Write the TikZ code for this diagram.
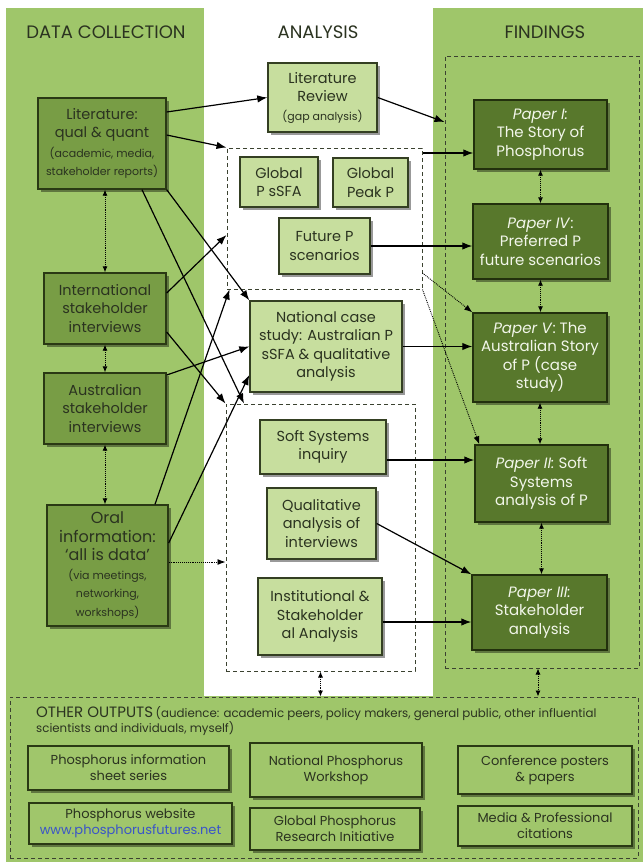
\documentclass[tikz,border=0pt]{standalone}
\usepackage{fontspec}
\setmainfont{Poppins}
\usetikzlibrary{arrows.meta,shadows}

\definecolor{panel}{HTML}{9FC66A}
\definecolor{leftfill}{HTML}{789D45}
\definecolor{leftdraw}{HTML}{2A3914}
\definecolor{midfill}{HTML}{C7DE9E}
\definecolor{middraw}{HTML}{343F22}
\definecolor{papfill}{HTML}{58782C}
\definecolor{papdraw}{HTML}{22300D}
\definecolor{paptext}{HTML}{F2F6EA}
\definecolor{outfill}{HTML}{A0C66B}
\definecolor{darktext}{HTML}{2B3320}
\definecolor{dashcol}{HTML}{3B4230}
\definecolor{urlblue}{HTML}{3A55C8}

\newcommand\fHead{\fontsize{18}{21}\selectfont}
\newcommand\fMain{\fontsize{14.5}{18.5}\selectfont}
\newcommand\fPap{\fontsize{15}{18.5}\selectfont}
\newcommand\fBig{\fontsize{16}{19}\selectfont}
\newcommand\fSmall{\fontsize{11}{13}\selectfont}
\newcommand\fOut{\fontsize{13}{16}\selectfont}

\begin{document}
\begin{tikzpicture}[x=1pt,y=-1pt,
  box/.style={line width=1.4pt, align=center, inner sep=2pt,
    drop shadow={shadow xshift=2.5pt,shadow yshift=-2.5pt,opacity=.4,fill=black}},
  colnode/.style={box, fill=leftfill, draw=leftdraw, text=darktext, font=\fMain},
  annode/.style={box, fill=midfill, draw=middraw, text=darktext, font=\fMain},
  papnode/.style={box, fill=papfill, draw=papdraw, text=paptext, font=\fPap},
  outnode/.style={box, fill=outfill, draw=leftdraw, text=darktext, font=\fOut},
  dbox/.style={draw=dashcol, dash pattern=on 4pt off 3pt, line width=1pt},
  arr/.style={-{Latex[length=10pt,width=7.5pt]}, line width=1.2pt, black},
  dotarr/.style={{Latex[length=6pt,width=5pt]}-{Latex[length=6pt,width=5pt]},
    densely dotted, line width=0.9pt, black},
  dotone/.style={-{Latex[length=8pt,width=6pt]}, densely dotted, line width=0.9pt, black},
  head/.style={font=\fHead, text=darktext}
]
\useasboundingbox (0,0) rectangle (643,862);

% background panels
\fill[white] (0,0) rectangle (643,862);
\fill[panel] (6,8) rectangle (643,862);
\fill[white] (204,8) rectangle (433,696);

% column headings
\node[head] (hdata) at (106,32) {DATA COLLECTION};
\node[head] (hana) at (318,32) {ANALYSIS};
\node[head] (hfind) at (545,32) {FINDINGS};

% dashed groupings
\node[dbox, minimum width=195, minimum height=141, inner sep=0] (gbox) at (324.5,218.5) {};
\node[dbox, minimum width=189, minimum height=267, inner sep=0] (sbox) at (320.5,537.5) {};
\node[dbox, minimum width=194, minimum height=612, inner sep=0] (fbox) at (542,362) {};
\node[dbox, minimum width=628, minimum height=161, inner sep=0] (obox) at (324,777.5) {};

% data collection
\node[colnode, minimum width=128, minimum height=91] (lit) at (102,143.5)
  {Literature:\\qual \& quant\\[1pt]\fSmall(academic, media,\\\fSmall stakeholder reports)};
\node[colnode, minimum width=122, minimum height=71] (intl) at (105,308.5)
  {International\\stakeholder\\interviews};
\node[colnode, minimum width=122, minimum height=71] (aus) at (105,408.5)
  {Australian\\stakeholder\\interviews};
\node[colnode, minimum width=121, minimum height=121] (oral) at (107.5,565.5)
  {\fBig Oral\\\fBig information:\\\fBig ‘all is data’\\\fSmall(via meetings,\\\fSmall networking,\\\fSmall workshops)};

% analysis
\node[annode, minimum width=109, minimum height=69] (litrev) at (322.5,97.5)
  {Literature\\Review\\\fSmall(gap analysis)};
\node[annode, minimum width=78, minimum height=50] (gsfa) at (279,182) {Global\\P sSFA};
\node[annode, minimum width=75, minimum height=49] (gpeak) at (370.5,182.5) {Global\\Peak P};
\node[annode, minimum width=91, minimum height=56] (futp) at (324.5,246) {Future P\\scenarios};
\node[annode, minimum width=152, minimum height=91] (natl) at (326,346.5)
  {National case\\study: Australian P\\sSFA \& qualitative\\analysis};
\node[annode, minimum width=126, minimum height=54] (soft) at (323,447) {Soft Systems\\inquiry};
\node[annode, minimum width=109, minimum height=71] (qual) at (321.5,523.5)
  {Qualitative\\analysis of\\interviews};
\node[annode, minimum width=124, minimum height=77] (inst) at (320,616.5)
  {Institutional \&\\Stakeholder\\al Analysis};

% findings
\node[papnode, minimum width=133, minimum height=69] (p1) at (540.5,134.5)
  {\textit{Paper I:}\\The Story of\\Phosphorus};
\node[papnode, minimum width=135, minimum height=75] (p4) at (540.5,241.5)
  {\textit{Paper IV}:\\Preferred P\\future scenarios};
\node[papnode, minimum width=134, minimum height=89] (p5) at (540,357.5)
  {\textit{Paper V}: The\\Australian Story\\of P (case\\study)};
\node[papnode, minimum width=133, minimum height=77] (p2) at (541.5,483.5)
  {\textit{Paper II:} Soft\\Systems\\analysis of P};
\node[papnode, minimum width=135, minimum height=75] (p3) at (539.5,612.5)
  {\textit{Paper III:}\\Stakeholder\\analysis};

% other outputs
\node[anchor=north west, align=left, text=darktext, inner sep=0] (otitle) at (36,706)
  {{\fontsize{15}{18}\selectfont OTHER OUTPUTS} {\fontsize{11.8}{16}\selectfont(audience: academic peers, policy makers, general public, other influential}\\
   {\fontsize{11.8}{16}\selectfont scientists and individuals, myself)}};
\node[outnode, minimum width=201, minimum height=44] (o1) at (128.5,768)
  {Phosphorus information\\sheet series};
\node[outnode, minimum width=172, minimum height=54] (o2) at (336,770)
  {National Phosphorus\\Workshop};
\node[outnode, minimum width=174, minimum height=48] (o3) at (545,770)
  {Conference posters\\\& papers};
\node[outnode, minimum width=203, minimum height=41] (o4) at (130.5,823.5)
  {Phosphorus website\\\textcolor{urlblue}{www.phosphorusfutures.net}};
\node[outnode, minimum width=170, minimum height=42] (o5) at (335,829)
  {Global Phosphorus\\Research Initiative};
\node[outnode, minimum width=174, minimum height=40] (o6) at (545,826)
  {Media \& Professional\\citations};

% connectors: data collection to analysis
\draw[arr] ([yshift=31.5pt]lit.east) -- (litrev.west);
\draw[arr] ([yshift=8.5pt]lit.east) -- (gbox.north west);
\draw[arr] (lit.south east) -- (natl.north west);
\draw[arr] ([xshift=40pt]lit.south) -- ([xshift=18.5pt]sbox.north west);
\draw[arr] ([yshift=15.5pt]intl.east) -- ([yshift=-16.5pt]gbox.west);
\draw[arr] ([yshift=-23.5pt]intl.east) -- (sbox.north west);
\draw[arr] ([yshift=33.5pt]aus.east) -- (natl.west);
\draw[arr] ([xshift=47.5pt]oral.north) -- ([xshift=3pt]gbox.south west);
\draw[arr] ([yshift=22.5pt]oral.east) -- ([yshift=-28.5pt]natl.west);
\draw[dotone] ([yshift=3.5pt]oral.east) coordinate (oa) -- (oa -| sbox.west);

% connectors: analysis to findings
\draw[arr] (litrev.east) -- ([yshift=240pt]fbox.west);
\draw[arr] ([yshift=65.5pt]gbox.east) coordinate (ga) -- (ga -| p1.west);
\draw[arr] (futp.east) -- (futp.east -| p4.west);
\draw[arr] (natl.east) -- (natl.east -| p5.west);
\draw[arr] ([yshift=-13pt]soft.east) coordinate (sa) -- (sa -| p2.west);
\draw[arr] (qual.east) -- (p3.north west);
\draw[arr] ([yshift=-5.5pt]inst.east) coordinate (ia) -- (ia -| p3.west);
\draw[dotone] ([yshift=-54.5pt]gbox.east) -- (p5.north west);
\draw[dotone] (gbox.south east) -- ([xshift=5pt]p2.north west);

% links within columns
\draw[dotarr] (intl.north |- lit.south) -- (intl.north);
\draw[dotarr] (intl.south) -- (aus.north);
\draw[dotarr] (aus.south) -- (aus.south |- oral.north);
\draw[dotarr] (p1.south) -- (p1.south |- p4.north);
\draw[dotarr] (p4.south) -- (p4.south |- p5.north);
\draw[dotarr] (p5.south) -- (p5.south |- p2.north);
\draw[dotarr] (p2.south) -- (p2.south |- p3.north);
\draw[dotarr] (sbox.south) -- (sbox.south |- obox.north);
\draw[dotarr] ([xshift=-4pt]fbox.south) coordinate (fa) -- (fa |- obox.north);
\end{tikzpicture}
\end{document}
